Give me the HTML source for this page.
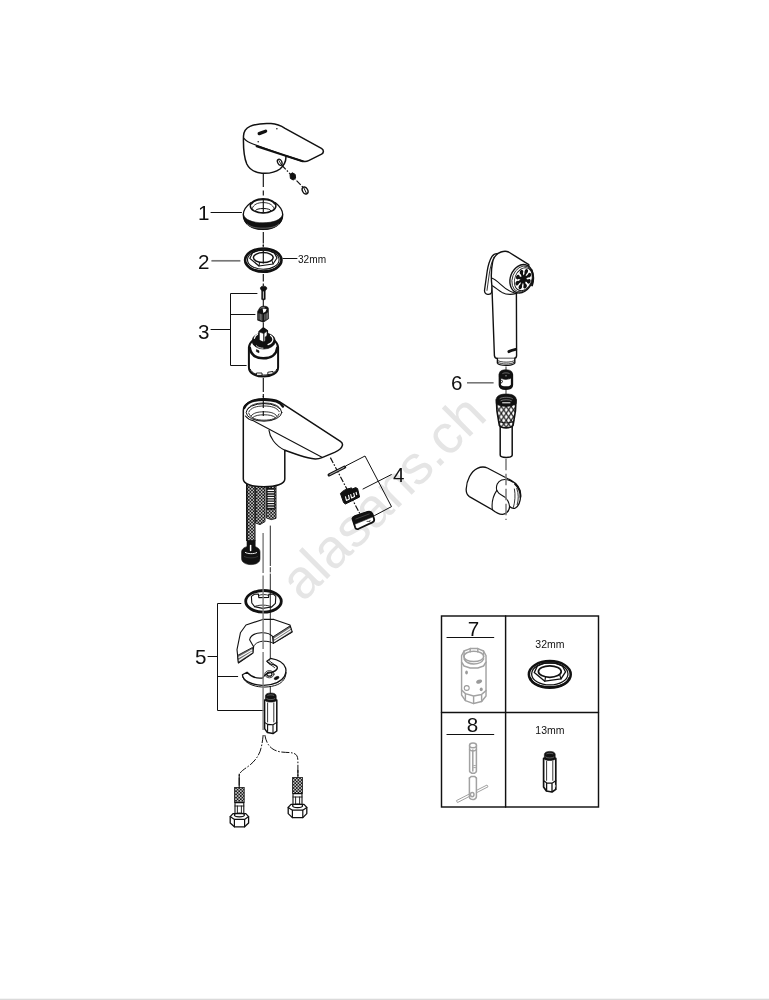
<!DOCTYPE html>
<html>
<head>
<meta charset="utf-8">
<title>Exploded view</title>
<style>
html,body{margin:0;padding:0;background:#fff;}
body{width:769px;height:1000px;overflow:hidden;position:relative;font-family:"Liberation Sans",sans-serif;}
svg{position:absolute;left:0;top:0;display:block;}
.n{font-family:"Liberation Sans",sans-serif;font-size:20.6px;fill:#111;}
.s{font-family:"Liberation Sans",sans-serif;font-size:10.1px;fill:#111;}
.s2{font-family:"Liberation Sans",sans-serif;font-size:10.5px;fill:#111;}
.wm{font-family:"Liberation Sans",sans-serif;font-size:54.9px;fill:#e5e5e5;}
.l{fill:none;stroke:#111;stroke-width:1.2;stroke-linecap:round;stroke-linejoin:round;}
.lw{fill:#fff;stroke:#111;stroke-width:1.3;stroke-linecap:round;stroke-linejoin:round;}
.t{fill:none;stroke:#111;stroke-width:0.85;stroke-linecap:round;stroke-linejoin:round;}
.k{fill:#111;stroke:#111;stroke-width:0.6;stroke-linejoin:round;}
.d{fill:none;stroke:#111;stroke-width:1.15;stroke-dasharray:12 3 5 3;}
.g{fill:none;stroke:#a2a2a2;stroke-width:1.5;stroke-linecap:round;stroke-linejoin:round;}
.gw{fill:#fff;stroke:#a2a2a2;stroke-width:1.5;stroke-linecap:round;stroke-linejoin:round;}
</style>
</head>
<body>
<svg width="769" height="1000" viewBox="0 0 769 1000">
<defs>
<pattern id="br" width="3.2" height="3.2" patternUnits="userSpaceOnUse">
<rect width="3.2" height="3.2" fill="#161616"/>
<circle cx="0.8" cy="0.8" r="0.8" fill="#fff"/><circle cx="2.4" cy="2.4" r="0.8" fill="#fff"/>
</pattern>
<pattern id="kn" width="4.9" height="7" patternUnits="userSpaceOnUse" x="496.4" y="406.4">
<rect width="4.9" height="7" fill="#fff"/>
<path d="M0,0L4.9,7M4.9,0L0,7" stroke="#111" stroke-width="1.15"/>
</pattern>
<filter id="idf" x="0" y="0" width="769" height="1000" filterUnits="userSpaceOnUse"><feOffset dx="0" dy="0"/></filter>
</defs>
<rect width="769" height="1000" fill="#fff"/>
<rect x="0" y="998.7" width="769" height="1.3" fill="#dadada"/>

<!-- WATERMARK -->
<g id="wm"><text class="wm" transform="translate(303,603) rotate(-44.9)">alasans.ch</text></g>

<!-- AXES -->
<g id="axes">
<path class="l" style="stroke-width:1.15;stroke-linecap:butt" d="M263.3,174V187M263.3,190.6V195.6M263.3,232V243.4M263.3,244.6V246.6M263.3,274V281.6M263.3,283.4V286M263.3,378V392M263.3,394V397"/>
</g>

<!-- LABELS -->
<g id="labels" filter="url(#idf)">
<text class="n" x="198.1" y="220.4">1</text>
<path class="l" style="stroke-width:1" d="M211,212.5H241.5"/>
<text class="n" x="198.1" y="269">2</text>
<path d="M211.4,260.8H240.4" stroke="#777" stroke-width="1.7" fill="none"/>
<path class="l" style="stroke-width:1" d="M283,258.5H297"/>
<text class="s" x="298" y="263.1">32mm</text>
<text class="n" x="198.1" y="338.5">3</text>
<path class="l" style="stroke-width:1" d="M211,329.5H230.5M257,293.5H230.5V365.5H246.2M230.5,314.5H255"/>
<text class="n" x="393.1" y="482">4</text>
<path class="l" style="stroke-width:1" d="M346,465.8L365,456L391.5,506.6L374.5,515.6M363,489L391.3,474.6"/>
<text class="n" x="195" y="664">5</text>
<path class="l" style="stroke-width:1" d="M208,656.5H217.5M240.9,603.5H217.5V710.5H264M217.5,676.5H237.7"/>
<text class="n" x="451" y="389.6">6</text>
<path d="M467,382.8H493.6" stroke="#777" stroke-width="1.6" fill="none"/>
</g>

<!-- TABLE -->
<g id="table" filter="url(#idf)">
<rect class="l" style="stroke-width:1.45;stroke-linejoin:miter" x="441.5" y="616" width="157" height="191"/>
<path class="l" style="stroke-width:1.45" d="M505.6,616V807M441.5,712.4H598.5"/>
<text class="n" x="467.8" y="636">7</text>
<path class="l" d="M447,637.5H493.7"/>
<text class="n" x="466.8" y="732">8</text>
<path class="l" d="M447,734.5H493.7"/>
<text class="s2" x="535.3" y="648.4">32mm</text>
<text class="s2" x="535.3" y="734.3">13mm</text>
</g>

<!-- HANDLE -->
<g id="handle">
<path class="lw" style="stroke-width:1.5" d="M243.5,136 C243.8,130.6 246.4,128 250,126.4 C256,123.8 264,123.2 271,123.6 C276,124 281,125.8 285,128.4 L321.4,148.4 C324,150 324,152.6 321.6,154.2 L308.6,160.6 C306.4,161.8 304.4,161.8 302,161 L285.8,155.8 C286.4,160.4 284.6,165 280,169 C275,172.6 268,173.6 262,173.2 C255,172.6 249.4,169.4 246.8,164 C244.2,158 243.2,146 243.5,136Z"/>
<path class="l" style="stroke-width:1.1" d="M244,138.4 C246,141 249,142.6 253,144 L285.8,155.8"/>
<path class="l" style="stroke-width:2.1" d="M256.6,146.2 L302.6,161.2"/>
<path d="M259.2,133.6 L265.6,131.2" stroke="#111" stroke-width="3.3" stroke-linecap="round"/>
<circle cx="276.9" cy="128.7" r="0.75" fill="#111"/><circle cx="258.2" cy="141.8" r="0.75" fill="#111"/>
<ellipse class="lw" style="stroke-width:1.3" cx="279.7" cy="162.2" rx="2.1" ry="3.2" transform="rotate(-25 279.7 162.2)"/>
<path class="t" d="M279,160.6 L280.6,163.6"/>
<path class="d" style="stroke-width:1.2;stroke-dasharray:6 1.6 1.6 1.6;stroke:#111" d="M281.6,165 L304.4,188.8"/>
<path class="k" style="stroke-width:1" d="M290,174.4 L292.4,172.8 L295.2,174.4 L295.6,178 L293.2,180 L290.4,178.4Z"/>
<ellipse class="lw" style="stroke-width:1.4" cx="305.1" cy="190.5" rx="2.6" ry="3.7" transform="rotate(-28 305.1 190.5)"/>
<path class="l" style="stroke-width:1" d="M303.8,187.8L306.4,193.2"/>
</g>

<!-- PART 1 -->
<g id="p1">
<path class="lw" style="stroke-width:1.4" d="M250.8,202.8 C246,206.4 243.3,210.6 243.3,214.6 C243.3,224 252,229.4 263,229.4 C274,229.4 282.7,224 282.7,214.6 C282.7,210.6 280,206.4 275.4,202.8"/>
<path class="k" d="M243.4,214.6 C245,220 253,222.8 263,222.8 C273,222.8 281,220 282.6,214.6 C283,224.4 274,229.6 263,229.6 C252,229.6 243,224.4 243.4,214.6Z"/>
<path d="M247,223.8 C250,227 256,228.2 263,228.2 C270,228.2 276,227 279,223.8" stroke="#ddd" stroke-width="0.4" fill="none"/>
<ellipse class="lw" style="stroke-width:1.5" cx="263.1" cy="205.9" rx="12.8" ry="7.1"/>
<path class="l" style="stroke-width:1.3" d="M251.6,204 C253.6,200.6 258,199.6 263.1,199.6 C268.2,199.6 272.6,200.6 274.6,204"/>
<path class="t" d="M252.2,208.4 C253.6,204.4 257.6,202.6 263.1,202.6 C268.6,202.6 272.6,204.4 274,208.4"/>
<ellipse class="l" style="stroke-width:1" cx="263.3" cy="210.6" rx="7.6" ry="2.1"/>
<path class="d" style="stroke-dasharray:none" d="M263.3,199V212.6"/>
</g>

<!-- PART 2 -->
<g id="p2">
<ellipse class="lw" style="stroke-width:2.6" cx="263.3" cy="260.1" rx="18.2" ry="11.6"/>
<ellipse class="l" style="stroke-width:1.1" cx="263.3" cy="259.7" rx="15.8" ry="9.6"/>
<path class="l" style="stroke-width:1.6" d="M246.4,263 C249,269.6 255,271 263.3,271 C271.6,271 277.6,269.6 280.2,263"/>
<path class="l" style="stroke-width:1.2" d="M249.8,258.4 L252.6,252.6 L258.6,250.2 L268,250.2 L274.2,252.6 L277,258 L273,264 L259,266 Z"/>
<ellipse class="lw" style="stroke-width:1.5" cx="263.3" cy="257.6" rx="9.9" ry="5"/>
<path class="l" style="stroke-width:1" d="M259,266 L259.6,262.2 M273,264 L272,260.6"/>
<path class="l" style="stroke-width:1.15;stroke-linecap:butt" d="M263.3,250.4V263.4M263.3,244.8V246.8"/>
</g>

<!-- PART 3 -->
<g id="p3">
<path class="d" style="stroke-width:1.1;stroke-dasharray:none" d="M263.3,299.6V306.4M263.3,322.4V327.6"/>
<!-- screw -->
<path class="k" d="M260.4,288.2 C260.4,286.8 261.6,286.2 263.4,286.2 C265.4,286.2 266.8,286.8 266.8,288.2 C266.8,289.6 265.6,290.6 263.6,290.6 C261.6,290.6 260.4,289.6 260.4,288.2Z"/>
<path class="k" d="M261.7,290 V299.4 L263.4,300 L265.2,299.4 V290Z"/>
<path d="M263.4,291.4V298.6" stroke="#fff" stroke-width="0.8"/>
<!-- square nut -->
<path class="k" d="M257.6,311.4 L259.6,308 C260.4,306.6 262,306.2 264,306.2 C266.4,306.2 268,306.8 268.4,308.2 L268.6,318.8 L263.4,322.2 L257.6,320.2Z"/>
<path d="M262.6,308.6 L266.6,309 L265.6,311.4 L263.4,313Z" fill="#fff"/>
<path d="M259,313.4V319.6M260.4,313.8V320.2M261.8,314.2V320.8" stroke="#bbb" stroke-width="0.6"/>
<path d="M264.8,314.2V320.4M266.2,313.4V319.6M267.4,312.6V318.8" stroke="#bbb" stroke-width="0.6"/>
<path d="M260.4,308.4 C261.4,307.6 263,307.4 264.6,307.6" stroke="#fff" stroke-width="0.5" fill="none"/>
<!-- cartridge -->
<path class="lw" style="stroke-width:2" d="M248.9,347.4 C249.2,344.6 250.6,342.4 252.6,340.8 L274.6,340.8 C276.6,342.4 277.8,344.6 278.1,347.4 V367.2 C278.1,373.2 271.2,376.6 263.4,376.6 C255.6,376.6 248.9,373.2 248.9,367.2Z"/>
<path class="l" style="stroke-width:0.9" d="M250.4,369.4 C252,373.4 256.6,375 263.4,375 C270.2,375 275,373.4 276.6,369.4"/>
<path class="lw" style="stroke-width:0.9" d="M256.8,373 h5.2 v2.4 h-5.2Z M268.2,372.2 l4.8,-0.8 v2.4 l-4.8,0.8Z"/>
<path class="l" style="stroke-width:2.5" d="M249.8,347.8 C250.8,354.8 256,358.2 263.4,358.2 C270.8,358.2 276.4,354.8 277.2,347.8"/>
<ellipse class="k" cx="263.7" cy="340.9" rx="11.6" ry="8.2"/>
<path d="M254.4,338.4 C254.8,336.4 256,335 257.6,334.2 M270.6,335.4 C272.6,336.8 273.4,339.4 272.2,341.6 C271.4,343 269.8,344 268,344.6" stroke="#fff" stroke-width="1.2" fill="none" stroke-linecap="round"/>
<path d="M256,345.4 C257.6,347.4 260.4,348.2 263.4,348.2" stroke="#fff" stroke-width="0.8" fill="none"/>
<path class="k" d="M256.4,349.6 l2.6,1.2 v2 l-2.6,-1.2Z"/>
<path class="lw" style="stroke-width:1.4" d="M259,331.8 L263.3,327.8 L267.4,330.8 V340.2 L263.8,342.6 L259,340.4Z"/>
<path class="k" d="M259,331.8 L263.3,327.8 L267.4,330.8 L263.8,333.6Z"/>
<path class="l" style="stroke-width:1.1" d="M263.8,333.6V342.4"/>
<path class="k" d="M265.2,337 L267.4,335.4 V340.2 L265.2,341.8Z"/>
</g>

<!-- HOSES under body (drawn first) -->
<g id="hoses">
<path d="M246.6,482 H255 V541 H247.2Z" fill="url(#br)" stroke="#111" stroke-width="1"/>
<path d="M246.8,484V541" stroke="#111" stroke-width="1.4"/>
<path d="M255.6,484 H265 V521.6 L260,524.6 L255.6,523Z" fill="url(#br)" stroke="#111" stroke-width="0.9"/>
<path d="M266.4,484 H276 V518.4 L271.4,519.6 L266.4,518Z" fill="url(#br)" stroke="#111" stroke-width="0.9"/>
<rect x="266.8" y="488" width="8" height="21.6" fill="#161616"/>
<path d="M268,490.4H273.6M268,492.8H273.6M268,495.2H273.6M268,497.6H273.6M268,500H273.6M268,502.4H273.6M268,504.8H273.6M268,507.2H273.6" stroke="#fff" stroke-width="1.1" stroke-linecap="round"/>
<!-- hose end nut -->
<path class="k" d="M247,540.6 H255.2 V548 H247Z"/>
<path class="k" d="M241.6,552 C241.6,548.4 245.4,546.2 251,546.2 C256.6,546.2 260,548.4 260,552 V558.6 C260,562.2 256.6,564.6 251,564.6 C245.4,564.6 241.6,562.2 241.6,558.6Z"/>
<path d="M250.6,545.4V550.4" stroke="#fff" stroke-width="1.5" stroke-linecap="round"/>
<path d="M245,552.2 C247,554 254.4,554.2 257,552.4" stroke="#fff" stroke-width="0.9" fill="none"/>
<path d="M244,556.4 C247,558.4 255,558.4 258,556.4" stroke="#555" stroke-width="0.5" fill="none"/>
</g>

<!-- FAUCET BODY -->
<g id="body">
<path class="lw" style="stroke-width:1.5" d="M243.3,410.6 V479 C243.3,484 252,486.8 264,486.8 C276,486.8 284.8,484 284.8,479 V450.2 C292,452.8 300,455.8 308,457.8 C313,459.2 318,459.4 322,457.6 L334.6,452.4 C338.6,450.6 341.8,448 342.4,445.4 C342.8,443.6 342,442.4 340.4,441.4 L279.4,401.6 C275,399.6 270,398.8 264,398.8 C252,398.8 243.3,403.6 243.3,410.6Z"/>
<path class="l" style="stroke-width:1.1" d="M245.4,416 C247.6,418.8 250.6,420.2 253.4,420.8 L322,457.2"/>
<path class="l" style="stroke-width:1.1" d="M269,430.4 C269.6,437 275,445.4 284.8,450.2"/>
<path class="l" style="stroke-width:2.3" d="M244.4,408 C246.4,402.2 254,399.8 264,399.8 C273,399.8 280.6,402 283,406.6"/>
<ellipse class="l" style="stroke-width:1" cx="264" cy="412.4" rx="17.8" ry="8.8"/>
<path class="t" d="M247.6,409.4 C249.6,404.8 256,403 264,403 C272,403 278,404.8 280.4,409"/>
<path class="t" d="M248.8,412 C250.6,407.6 256.6,406 264,406 C271.4,406 277,407.6 279.2,411.6"/>
<path class="l" style="stroke-width:0.9" d="M248.8,413.4 C250.6,418.4 256.6,420.2 264,420.2 C271.4,420.2 277,418.6 279,414"/>
<path class="t" d="M251,416 C253.4,412.8 258,411.8 264,411.8 C270,411.8 274.6,412.8 276.8,416"/>
<path class="t" d="M252.6,417.6 C255,415.4 259,414.8 264,414.8 C269,414.8 273,415.4 275.4,417.6"/>
<path class="d" d="M263.3,396V419"/>
</g>

<!-- PART 4 -->
<g id="p4">
<path class="d" style="stroke-width:1.2;stroke-dasharray:6 1.6 1.6 1.6;stroke:#111" d="M330.4,457.6 L360,514"/>
<path d="M329.2,474.9 L344.6,467.1" stroke="#111" stroke-width="3.3" stroke-linecap="round"/><path d="M329.8,474.6 L344,467.4" stroke="#fff" stroke-width="0.7" stroke-linecap="round"/>
<!-- middle insert -->
<path class="k" style="stroke-width:1" d="M340.4,493.4 C343,490.4 347,488.6 350,488.4 L351.4,487.8 L352.4,489 L355.6,487.6 L357.6,488.6 L359.6,497 L345.4,504 L343.6,502.6Z"/>
<path d="M345.4,496.4l1,4l3,-1.4l-1,-4M350.6,494.2l1,3.8l3,-1.4l-1,-3.8M356,492l0.8,3" stroke="#fff" stroke-width="1.1" fill="none" stroke-linejoin="round"/>
<!-- aerator -->
<path class="lw" style="stroke-width:1.8" d="M352.4,518.6 C352.6,517.4 353.6,516.6 355,516 L367.6,511.8 C369.8,511.2 371.6,512 372.4,513.8 L374,518.6 C374.6,520.4 374,521.6 372.4,522.4 L358.6,528.8 C357,529.4 355.8,529 355.2,527.6Z"/>
<path class="k" d="M352.4,518.6 C352.6,517.4 353.6,516.6 355,516 L367.6,511.8 C369.8,511.2 371.6,512 372.4,513.8 L373.4,516.6 L354,524.6Z"/>
<path d="M355.4,519.2 L369.6,513.8" stroke="#777" stroke-width="0.5" fill="none"/>
<path d="M366.6,521.4 h3.4 v-1.4" stroke="#111" stroke-width="0.7" fill="none"/>
</g>

<!-- PART 5 -->
<g id="p5">
<!-- o-ring with inner piece -->
<ellipse class="lw" style="stroke-width:2.8" cx="263.5" cy="601.3" rx="17.8" ry="10.8"/>
<path class="l" style="stroke-width:1.1" d="M251.4,596.4 L254.4,594.2 L258.4,594 L258.8,597.6 L268.6,597.4 L268.8,594.2 L273.4,594 L275.8,596.4 L275.4,603.4 L271.6,607 L262.6,608.4 L254.6,606.6 L251.8,603Z"/>
<path class="t" d="M258.6,595.4 C261.6,594.2 266,594.2 268.8,595.4 M254.6,606.6 C257,604.6 268,604.4 271.6,607"/>
<!-- sink section -->
<path class="lw" style="stroke-width:1.1" d="M246,625 L262.8,619.4 L274,619.4 L290,625 L292.2,632 L273.4,643.4 L272.6,636.4 C270,633.6 266,632.6 261.4,632.8 C255,633.2 250.4,636 249.6,639.8 L253.6,646.8 L253,653 L238.4,663 L237,649.6 L240.4,632.8Z"/>
<path class="l" style="stroke-width:1" d="M253.6,646.6 C255,642.8 260,641.2 264,641.2 C268,641.2 271.6,642 273.4,643.4"/>
<path d="M273,636.8 L289.8,626 L292,632 L273.4,643.2Z" fill="#707070" stroke="#111" stroke-width="0.9" stroke-linejoin="round"/>
<path d="M274.2,639 L290.4,628.6 M274,641.6 L291.2,630.6" stroke="#fff" stroke-width="1.2"/>
<path d="M237.6,655.4 L252.6,647.4 L252.8,653 L238.4,662.8Z" fill="#707070" stroke="#111" stroke-width="0.9" stroke-linejoin="round"/>
<path d="M238.6,657.6 L252.4,649.8 M238.8,660.4 L252.4,651.8" stroke="#fff" stroke-width="1.2"/>
<!-- horseshoe plate -->
<path class="lw" style="stroke-width:1.3" d="M242.4,674.8 L247,672.2 C251,676.6 257,678.8 262.6,678 C264,675.6 266.6,673.4 269.6,672.8 C273.6,672 277,670 277.4,668 C277.8,666 274,664.4 270,663.8 L266.8,661.2 L270.6,658.4 C278,659.6 284,663 285.6,668 C287,673.6 284,679.4 277,682.6 C268,686.6 256,686 248,681.8 C245,680.2 242.8,677.6 242.4,674.8Z"/>
<path class="l" style="stroke-width:1" d="M242.6,676.8 C244,680.4 247,683.2 252,685 C260,688 270,687.6 277.6,684.6 C283,682.2 286,677.6 286,672.4"/>
<ellipse class="l" cx="269.4" cy="674.2" rx="2.6" ry="2"/>
<ellipse class="l" style="stroke-width:0.8" cx="269.4" cy="674.2" rx="4.6" ry="3.6"/>
<ellipse class="k" cx="276.6" cy="678" rx="2.6" ry="1.3" transform="rotate(-25 276.6 678)"/>
<path class="l" style="stroke-width:0.9" d="M267.6,662.4 C269,664.4 272.6,665.6 274.6,667.6 M269.4,660.8 C271,662.8 274.6,664 276.2,666"/>
<!-- stud -->
<path class="lw" style="stroke-width:1.5" d="M264.6,700 V728.6 L267.4,732.6 L273,733.6 L276.8,731 V700Z"/>
<path class="l" style="stroke-width:1.1" d="M264.6,722.4 L267.6,724.4 L273,724.8 L276.8,722.4 M267.6,724.4V732.4 M273,724.8V733.2"/>
<path class="t" d="M267.6,703V722 M273.8,703V722"/>
<path class="k" d="M265.4,696 C265.4,694 267.6,693 270.8,693 C274,693 276.2,694 276.2,696 V700.6 C275,702.6 266.6,702.6 265.4,700.6Z"/>
<path d="M267.4,695.6 C268.6,694.6 273,694.6 274.2,695.6 M266.4,698.4 C268,700 273.6,700 275.2,698.4" stroke="#aaa" stroke-width="0.5" fill="none"/>
</g>

<!-- LOWER HOSE ENDS -->
<g id="lower">
<path class="d" style="stroke-width:1;stroke-dasharray:8 1.6 1.6 1.6;stroke:#111" d="M263.2,735 C262.4,742 261.6,747 260,751.6 C257.6,757.6 254,761.6 250,765 C245,769 239.2,771.6 239.2,776 V787"/>
<path class="d" style="stroke-width:1;stroke-dasharray:8 1.6 1.6 1.6;stroke:#111" d="M264.8,735 C265.6,739 266.6,742 268.4,744.6 C271,748.6 275,750.8 280,751.8 C285,752.8 290,752 294,753.4 C297,754.6 297.9,757 297.9,761 V777.4"/>
<path class="l" style="stroke-width:1.1" d="M239.2,774V788M297.9,770.4V778"/>
<!-- left -->
<rect x="234.6" y="787.6" width="9.6" height="15" fill="url(#br)" stroke="#111" stroke-width="0.8"/>
<path class="lw" style="stroke-width:1.1" d="M235,802.6 H243.8 V815 H235Z"/>
<path class="l" style="stroke-width:0.9" d="M237.4,806V814M241.4,806V814M235,806H243.8"/>
<path class="lw" style="stroke-width:1.3" d="M230.2,816.6 L233,813.6 H245.8 L248.6,816.6 V823 L244.6,826.8 H234.4 L230.2,823Z"/>
<path class="l" d="M230.2,816.6 L234.4,819.4 H244.6 L248.6,816.6 M234.4,819.4V826.8 M244.6,819.4V826.8"/>
<ellipse class="l" cx="239.4" cy="815" rx="5" ry="1.8"/>
<!-- right -->
<rect x="292.6" y="777.6" width="9.8" height="16" fill="url(#br)" stroke="#111" stroke-width="0.8"/>
<path class="lw" style="stroke-width:1.1" d="M293,793.6 H302 V805.6 H293Z"/>
<path class="l" style="stroke-width:0.9" d="M295.6,797V805M299.6,797V805M293,797H302"/>
<path class="lw" style="stroke-width:1.3" d="M288.2,807.4 L291,804.4 H304 L306.8,807.4 V813.6 L302.8,817.6 H292.4 L288.2,813.6Z"/>
<path class="l" d="M288.2,807.4 L292.4,810.2 H302.8 L306.8,807.4 M292.4,810.2V817.6 M302.8,810.2V817.6"/>
<ellipse class="l" cx="297.6" cy="805.8" rx="5" ry="1.8"/>
</g>

<!-- SHOWER -->
<g id="shower">
<path d="M506,366.4V370.6M506,389.6V394" stroke="#7a7a7a" stroke-width="1.5" fill="none"/>
<!-- trigger lever behind -->
<path class="lw" style="stroke-width:1.3" d="M497.8,253.6 C495.6,253.4 493.4,254.2 492,256.4 C489.6,260.4 488,266 487.2,271.2 L484.6,289.6 C484.2,292.2 485.6,294 487.8,294.4 C489.6,294.6 491,294 491.6,292.6 L492.6,284"/>
<path class="t" d="M494,257 C491.6,262 490.2,268 489.4,273 L487,290.4"/>
<!-- head + body -->
<path class="lw" style="stroke-width:1.4" d="M491.9,286 C491,278 491.4,268 492.6,262 C494,256 497,253.4 501,252 C503.4,251.2 506.4,251 508.6,252 L528.8,264.6 L528,284 L516.4,293.4 L516.6,355.6 C516.6,357.4 515.6,358.4 514,358.4 L497.4,358.4 C495.6,358.4 494.6,357.4 494.4,355.6Z"/>
<!-- face -->
<ellipse class="lw" style="stroke-width:1.4" cx="521.4" cy="278.8" rx="11" ry="14.6" transform="rotate(21 521.4 278.8)"/>
<ellipse class="l" style="stroke-width:0.8" cx="522.2" cy="279" rx="9.8" ry="13.4" transform="rotate(21 522.2 279)"/>
<path class="l" style="stroke-width:2" d="M531.6,270 C533.4,274.6 533.6,280.6 532,285.4"/>
<g transform="translate(523.3 279.2) rotate(21) scale(0.74 1.04)">
<ellipse rx="11.4" ry="11.4" fill="#fff" stroke="#111" stroke-width="1"/>
<path d="M0,-8.6V8.6M-8.6,0H8.6M-6.1,-6.1L6.1,6.1M-6.1,6.1L6.1,-6.1" stroke="#111" stroke-width="2.6" stroke-linecap="round" fill="none"/>
<circle r="3.8" fill="#111"/>
<circle cx="0" cy="-8" r="2.3" fill="#111"/><circle cx="0" cy="8" r="2.3" fill="#111"/><circle cx="-8" cy="0" r="2.3" fill="#111"/><circle cx="8" cy="0" r="2.3" fill="#111"/>
<circle cx="5.7" cy="-5.7" r="2.3" fill="#111"/><circle cx="-5.7" cy="5.7" r="2.3" fill="#111"/><circle cx="5.7" cy="5.7" r="2.3" fill="#111"/><circle cx="-5.7" cy="-5.7" r="2.3" fill="#111"/>
</g>
<!-- neck contour -->
<path class="l" style="stroke-width:1.1" d="M491.6,278 C494,278.6 497,281 500.6,284.4 C505,288.6 509.6,291.6 514.6,293"/>
<path class="l" style="stroke-width:1.1" d="M492.4,285.8 C496,288 499,290.6 502,292.4 C506,294.6 511,295 516.4,293.4"/>
<!-- logo -->
<path d="M509,351.6 C510.6,350.6 513,350 515.6,349.4" stroke="#111" stroke-width="3" stroke-linecap="round" fill="none"/>
<!-- thread -->
<path class="lw" style="stroke-width:1.4" d="M497.4,358.4 V363 C499,366.2 513,366.2 514.8,363 V358.4"/>
<path class="l" style="stroke-width:0.8" d="M497.6,360.4 C500,362.8 512.4,362.8 514.6,360.4 M498.4,362.4 C501,364.6 511.4,364.6 513.8,362.4"/>
</g>

<!-- PART 6 -->
<g id="p6">
<path class="lw" style="stroke-width:2.3" d="M499.8,374.4 V385 C499.8,387.6 502.4,388.8 505.9,388.8 C509.4,388.8 512,387.6 512,385 V374.4"/>
<path class="k" d="M499.4,373.6 C499.4,371 502,369.8 505.9,369.8 C509.8,369.8 512.4,371 512.4,373.6 V377 C510.6,378.8 508,379.4 505.9,379.4 C503.6,379.4 501,378.8 499.4,377Z"/>
<path d="M502.4,373.6 C504,372.6 508,372.6 509.6,373.6" stroke="#999" stroke-width="0.6" fill="none"/>
<path d="M505,375.8h2" stroke="#aaa" stroke-width="0.7"/>
<path class="l" style="stroke-width:0.9" d="M500.6,380.6 C501.6,379.6 502.8,380.4 502.4,381.8 C502,383.2 500.8,383.2 500.6,382"/>
<path class="l" style="stroke-width:2" d="M500.2,385.4 C501.6,388 510.2,388 511.6,385.4"/>
</g>

<!-- HOSE CONNECTOR -->
<g id="conn">
<path class="lw" style="stroke-width:1.5" d="M500.2,426 V455 C500.2,456.8 503,457.4 506.2,457.4 C509.4,457.4 512.2,456.8 512.2,455 V426"/>
<path d="M496.4,400 C496.4,406 497,414 498.6,421 L499.4,425.6 C501.6,428.6 510.8,428.6 513,425.6 L513.8,421 C515.4,414 516,406 516,400Z" fill="url(#kn)" stroke="#111" stroke-width="1.6"/>
<path class="l" style="stroke-width:1" d="M498.4,421 C501,423.6 511.4,423.6 514,421"/>
<path class="k" d="M496.2,399.6 C496.2,396 500,394 506.2,394 C512.4,394 516.2,396 516.2,399.6 V403.6 C513,406 509,406.4 506.2,406.4 C503,406.4 499,406 496.2,403.6Z"/>
<path d="M499.6,398.8 C502,396.8 510.4,396.8 512.8,398.8 M500.6,400.8C503,399.4 509.4,399.4 511.8,400.8" stroke="#aaa" stroke-width="0.6" fill="none"/>
<path d="M502.6,402.8H510" stroke="#fff" stroke-width="1" stroke-linecap="round"/>
</g>

<!-- WALL HOLDER -->
<g id="holder">
<path class="lw" style="stroke-width:1.3" d="M466.2,489 C466.6,480 471,471.6 477.4,468.4 C480.6,466.8 484.4,466.6 487.4,468 L511,480.4 C517,483.6 520.8,489.6 520.6,496 C520.4,502 518.6,506 515.4,508 C513.4,509 511.4,508.2 509.6,506.6 C509.4,510.4 506.6,514 502.6,514.4 C498.6,514.6 495,512 492.4,509.8 L469.4,496.6 C467,495 466,492.4 466.2,489Z"/>
<path class="l" style="stroke-width:1.1" d="M496.8,490.4 C495.6,486 497.6,481.4 501.6,480 C504.6,479 509,479.8 512.6,482"/>
<path class="l" style="stroke-width:1.1" d="M496.8,490.4 C498.6,494.6 502.6,495.6 505,497.2 C507.6,499.6 509.2,503.6 509.6,506.6"/>
<path class="l" style="stroke-width:1.1" d="M496.8,490.4 C493,496 491.4,503 492.4,509.8"/>
<path class="t" d="M514.4,489 C515.6,494.6 515,502 513.4,507.4 M516.8,488.4 C518.8,493.6 518.6,500 517.2,504.6"/>
<path class="l" style="stroke-width:1.8" d="M515,484 C519,487.6 520.8,492 520.4,497"/>
<path d="M506,458.8V520" stroke="#7a7a7a" stroke-width="1.5" stroke-dasharray="11.4 3.6" fill="none"/>
</g>

<!-- TABLE CONTENTS -->
<g id="tcontent">
<!-- tool 7 (grey) -->
<g transform="translate(473.8 0) scale(0.955 1) translate(-473.8 0)">
<path class="gw" d="M461,662 V695 L465,700.6 L473.6,703.6 L482,701.6 L486.6,696 V662" />
<path class="g" d="M461,690 L465,693.6 L473.6,696 L482,694.4 L486.6,690.6 M465,693.6V700.6M473.6,696V703.6M482,694.4V701.6"/>
<path class="gw" d="M461,655.6 L463.6,651 L470,648.6 L478,648.6 L484,651 L486.6,655.6 V662 L484,666 L478,668 L470,668 L463.6,666 L461,662Z"/>
<ellipse class="g" cx="473.8" cy="656.4" rx="10.4" ry="5.2"/>
<path class="g" d="M463.6,659 C466,663 470,664 473.8,664 C478,664 482,663 484.2,659"/>
<path class="g" d="M463.6,651V657M470,648.6V652M478,648.6V652M484,651V657"/>
<ellipse cx="466.2" cy="672.6" rx="1.4" ry="2" fill="#9a9a9a"/>
<ellipse cx="479.4" cy="681.6" rx="3.2" ry="1.9" fill="#9a9a9a" transform="rotate(-20 479.4 681.6)"/>
<ellipse cx="466.4" cy="688" rx="2.6" ry="2.4" fill="none" stroke="#9a9a9a" stroke-width="1.1"/>
<ellipse cx="481.6" cy="689.4" rx="1.6" ry="1.8" fill="#9a9a9a"/>
</g>
<!-- nut 32mm -->
<g transform="translate(549.8 674.4) scale(1.15) translate(-263.3 -260.1)">
<ellipse class="lw" style="stroke-width:2.2" cx="263.3" cy="260.1" rx="18.2" ry="11.6"/>
<ellipse class="l" style="stroke-width:1.1" cx="263.3" cy="259.7" rx="15.8" ry="9.6"/>
<path class="l" style="stroke-width:1.6" d="M246.4,263 C249,269.6 255,271 263.3,271 C271.6,271 277.6,269.6 280.2,263"/>
<path class="l" style="stroke-width:1.2" d="M249.8,258.4 L252.6,252.6 L258.6,250.2 L268,250.2 L274.2,252.6 L277,258 L273,264 L259,266 Z"/>
<ellipse class="lw" style="stroke-width:1.5" cx="263.3" cy="257.6" rx="9.9" ry="5"/>
<path class="l" style="stroke-width:1" d="M259,266 L259.6,262.2 M273,264 L272,260.6"/>
</g>
<!-- tool 8 (grey) -->
<path class="gw" style="stroke-width:1" d="M456.8,800.4 L487,785 L488,786.8 L457.8,802.4Z"/>
<path class="gw" d="M469.4,778 V797 C469.4,799 472,800 474,799.4 C475.6,799 476.4,798 476.4,796.6 V778" />
<path class="g" d="M469.4,778 L471.4,776.4 H474.6 L476.4,778"/>
<ellipse class="g" cx="472.2" cy="794.6" rx="1.8" ry="2.2"/>
<path class="gw" d="M469.6,746 V771.6 L471.6,773.2 H474.6 L476.4,771.6 V746" />
<path class="g" d="M472.8,750V771"/>
<ellipse class="gw" cx="473" cy="745.4" rx="3.5" ry="2.3"/>
<path class="g" d="M469.6,749.6 C471,751.4 475,751.4 476.4,749.6"/>
<path d="M473.4,765.6h2.4M473.4,767.6h2.4" stroke="#9a9a9a" stroke-width="0.9"/>
<!-- stud 13mm -->
<g transform="translate(279 58.4)">
<path class="lw" style="stroke-width:1.7" d="M264.6,700 V728.6 L267.4,732.6 L273,733.6 L276.8,731 V700Z"/>
<path class="l" style="stroke-width:1.3" d="M264.6,722.4 L267.6,724.4 L273,724.8 L276.8,722.4 M267.6,724.4V732.4 M273,724.8V733.2"/>
<path class="t" d="M267.6,703V722 M273.8,703V722"/>
<path class="k" d="M265.4,696 C265.4,694 267.6,693 270.8,693 C274,693 276.2,694 276.2,696 V700.6 C275,702.6 266.6,702.6 265.4,700.6Z"/>
<path d="M267.4,695.6 C268.6,694.6 273,694.6 274.2,695.6 M266.4,698.4 C268,700 273.6,700 275.2,698.4" stroke="#aaa" stroke-width="0.5" fill="none"/>
<path d="M274.6,726.6h1.6v2.4" stroke="#fff" stroke-width="0.6" fill="none"/>
</g>
</g>

<!-- AXES OVER LOWER PARTS -->
<g id="axes2">
<path d="M263.1,533V573M263.1,575.6V649M263.1,652V730" stroke="#7c7c7c" stroke-width="1.4" fill="none"/>
<path class="l" style="stroke-width:0.9" d="M270.3,526V565.6M270.3,567.6V572M270.3,574V658.4M270.3,686.6V692.6"/>
</g>
<!--PARTS-->
</svg>
</body>
</html>
